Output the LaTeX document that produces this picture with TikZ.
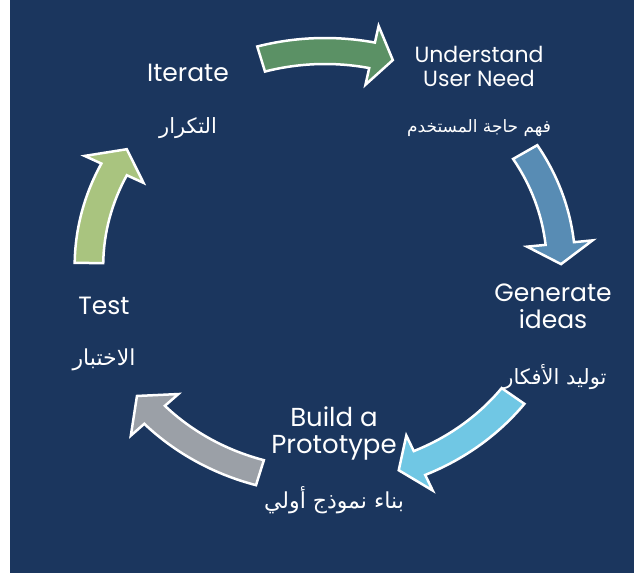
\documentclass[tikz,border=0pt]{standalone}
\usepackage{fontspec}
\setmainfont{Poppins}
\newfontfamily\arabicfont[Script=Arabic]{DejaVu Sans}
\TeXXeTstate=1
\definecolor{cyclebg}{RGB}{27,54,94}
\definecolor{understandfill}{RGB}{91,145,101}
\definecolor{ideasfill}{RGB}{88,140,180}
\definecolor{buildfill}{RGB}{112,199,228}
\definecolor{testfill}{RGB}{155,160,167}
\definecolor{iteratefill}{RGB}{169,196,127}
\begin{document}
\begin{tikzpicture}[x=1pt,y=1pt,
  stagetext/.style={text=white,align=center,font=\fontsize{22}{24}\selectfont},
  arabictext/.style={text=white,font=\arabicfont\fontsize{21}{22}\selectfont},
  cyclearrow/.style={draw=white,line width=2.5pt,line join=miter}]
\fill[cyclebg] (-315,-307) rectangle (309,266);
\useasboundingbox (-325,-312) rectangle (309,266);

% the five arrows sit on one circle, stretched a bit sideways
\begin{scope}[xscale=1.098]
\filldraw[cyclearrow,fill=understandfill] (105.7:228) arc[start angle=105.7,end angle=78.5,radius=228]
  -- (78.5:245) -- (73.3:215) -- (78.5:185) -- (78.5:202) arc[start angle=78.5,end angle=105.7,radius=202] -- cycle;
\filldraw[cyclearrow,fill=ideasfill] (32:228) arc[start angle=32,end angle=6,radius=228]
  -- (6:245) -- (0.5:215) -- (6:185) -- (6:202) arc[start angle=6,end angle=32,radius=202] -- cycle;
\filldraw[cyclearrow,fill=buildfill] (-37.2:228) arc[start angle=-37.2,end angle=-66.4,radius=228]
  -- (-66.4:245) -- (-71.8:215) -- (-66.4:185) -- (-66.4:202) arc[start angle=-66.4,end angle=-37.2,radius=202] -- cycle;
\filldraw[cyclearrow,fill=testfill] (-106:228) arc[start angle=-106,end angle=-136.2,radius=228]
  -- (-136.2:245) -- (-142.8:215) -- (-136.2:185) -- (-136.2:202) arc[start angle=-136.2,end angle=-106,radius=202] -- cycle;
\filldraw[cyclearrow,fill=iteratefill] (179.2:228) arc[start angle=179.2,end angle=153.3,radius=228]
  -- (153.3:245) -- (147.1:215) -- (153.3:185) -- (153.3:202) arc[start angle=153.3,end angle=179.2,radius=202] -- cycle;
\end{scope}

\node[stagetext,font=\fontsize{25}{28}\selectfont] (iterate) at (-137,193) {Iterate};
\node[arabictext] (iterateAr) at (-137,138) {\beginR التكرار\endR};
\node[stagetext] (understand) at (154,200) {Understand\\User Need};
\node[arabictext,font=\arabicfont\fontsize{17}{20}\selectfont] (understandAr) at (154,138) {\beginR فهم حاجة المستخدم\endR};
\node[stagetext,font=\fontsize{25}{27}\selectfont] (generate) at (228,-40) {Generate\\ideas};
\node[arabictext] (generateAr) at (230,-111) {\beginR توليد الأفكار\endR};
\node[stagetext,font=\fontsize{26}{27}\selectfont] (build) at (9,-167) {Build a\\Prototype};
\node[arabictext,font=\arabicfont\fontsize{22}{24}\selectfont] (buildAr) at (9,-234) {\beginR بناء نموذج أولي\endR};
\node[stagetext,font=\fontsize{25}{28}\selectfont] (test) at (-221,-40) {Test};
\node[arabictext,font=\arabicfont\fontsize{22}{24}\selectfont] (testAr) at (-221,-94) {\beginR الاختبار\endR};
\end{tikzpicture}
\end{document}
